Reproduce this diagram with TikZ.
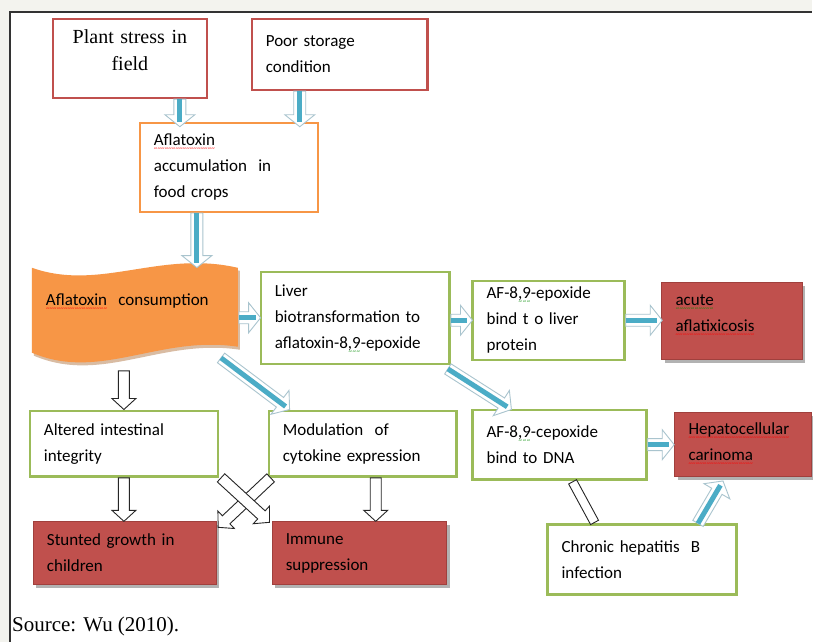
\documentclass[tikz,border=0pt]{standalone}
\usepackage{fontspec}
\setmainfont{Carlito}
\newfontfamily\sourcefont{Liberation Serif}
\usetikzlibrary{calc, shadows}
\definecolor{FlowRed}{HTML}{C0504D}
\definecolor{FlowRedDark}{HTML}{A0403D}
\definecolor{FlowOrange}{HTML}{F79646}
\definecolor{FlowGreen}{HTML}{9BBB59}
\definecolor{FlowBlue}{HTML}{4BACC6}
\definecolor{FlowEdge}{HTML}{A9C4CE}
\definecolor{PageGray}{HTML}{F3F3EE}
\definecolor{BannerRim}{HTML}{D9BCA3}

% spell-check squiggles under words
\newcommand\squiggle[2]{\leavevmode\setbox0\hbox{#2}\rlap{\raisebox{-5pt}[0pt][0pt]{\hbox to \wd0{\color{#1}\fontsize{7}{7}\selectfont\xleaders\hbox{\textasciitilde}\hfil}}}\box0}
\newcommand\spellwave[1]{\squiggle{red}{#1}}
\newcommand\grammarwave[1]{\squiggle{green!55!black}{#1}}

% block arrow: style, from, to, half shaft, half head, head length
\newcommand{\blockarrow}[6][]{%
  \path[#1] let \p1=($(#3)-(#2)$), \n1={atan2(\y1,\x1)} in
    ($(#2)+(\n1+90:#4)$) -- ($(#3)+(\n1+180:#6)+(\n1+90:#4)$)
    -- ($(#3)+(\n1+180:#6)+(\n1+90:#5)$) -- (#3)
    -- ($(#3)+(\n1+180:#6)+(\n1-90:#5)$) -- ($(#3)+(\n1+180:#6)+(\n1-90:#4)$)
    -- ($(#2)+(\n1-90:#4)$) -- cycle;}
\newcommand{\bluearrow}[2]{%
  \blockarrow[bluehead]{#1}{#2}{6pt}{15pt}{12pt}
  \draw[bluecore] (#1) -- ($(#2)!5pt!(#1)$);}
\newcommand{\hollowarrow}[2]{\blockarrow[hollow]{#1}{#2}{5.5pt}{12pt}{11pt}}

\begin{document}
\begin{tikzpicture}[x=1pt, y=-1pt,
  box/.style={rectangle, line width=2.4pt, fill=white, align=left, inner xsep=14pt,
    inner ysep=2pt, font=\fontsize{17}{26}\selectfont},
  redbox/.style={box, draw=FlowRed},
  orangebox/.style={box, draw=FlowOrange},
  greenbox/.style={box, draw=FlowGreen},
  fillbox/.style={box, line width=0.6pt, draw=FlowRedDark, fill=FlowRed,
    drop shadow={shadow xshift=3pt, shadow yshift=-3pt, fill=black!30, opacity=1}},
  bluehead/.style={draw=FlowEdge, fill=white, line width=0.9pt},
  bluecore/.style={draw=FlowBlue, line width=5pt},
  hollow/.style={draw=black!85, fill=white, line width=0.9pt}]

% page
\fill[PageGray] (0,0) rectangle (813,642);
\fill[white] (10,12) rectangle (813,642);
\draw[black!80, line width=1.2pt] (10,642) -- (10,12) -- (813,12);

% wave banner
\fill[BannerRim, shift={(2,3)}] (32,268) .. controls (100,292) and (160,250) .. (238,268)
  -- (238,347) .. controls (160,335) and (100,382) .. (32,353) -- cycle;
\fill[FlowOrange] (32,268) .. controls (100,292) and (160,250) .. (238,268)
  -- (238,347) .. controls (160,335) and (100,382) .. (32,353) -- cycle;

\node[redbox, text width=126pt, minimum height=79pt, align=center, text depth=44pt,
  font=\sourcefont\fontsize{20}{27}\selectfont] (plant) at (130,58.5) {Plant stress in\\field};
\node[redbox, text width=148pt, minimum height=71pt] (poor) at (340,54.5) {Poor storage\\condition};
\node[orangebox, text width=150pt, minimum height=89pt] (accum) at (229,167.5)
  {\spellwave{Aflatoxin}\\accumulation\ \ in\\food crops};
\node[box, draw=none, fill=none, text width=178pt, minimum height=97pt, text height=12pt,
  text depth=34pt] (cons) at (135,316.5) {\spellwave{Aflatoxin}\ \ consumption};
\node[greenbox, text width=161pt, minimum height=92pt] (liver) at (355.5,318)
  {Liver\\biotransformation to\\aflatoxin-8\grammarwave{,9}-epoxide};
\node[greenbox, text width=124pt, minimum height=79pt] (afliver) at (549,320.5)
  {AF-8\grammarwave{,9}-epoxide\\bind t o liver\\protein};
\node[fillbox, text width=113pt, minimum height=77pt, text depth=42pt] (acute) at (732.5,321.5)
  {\grammarwave{acute}\\\spellwave{aflatixicosis}};
\node[greenbox, text width=160pt, minimum height=66pt] (altered) at (124,444) {Altered intestinal\\integrity};
\node[greenbox, text width=160pt, minimum height=66pt] (modul) at (363,444) {Modulation\ \ of\\cytokine expression};
\node[greenbox, text width=146pt, minimum height=70pt] (cepox) at (560,445)
  {AF-8\grammarwave{,9}-cepoxide\\bind to DNA};
\node[fillbox, text width=109pt, minimum height=64pt, text depth=32pt] (hepato) at (743.5,445)
  {\spellwave{Hepatocellular}\\\spellwave{carinoma}};
\node[fillbox, text width=155pt, minimum height=63pt] (stunted) at (124.5,553.5) {Stunted growth in\\children};
\node[fillbox, text width=147pt, minimum height=63pt] (immune) at (359.5,553.5) {Immune\\suppression};
\node[greenbox, text width=161pt, minimum height=70pt] (chronic) at (642.5,560) {Chronic hepatitis\ \ B\\infection};
\node[anchor=base west, inner sep=0pt, font=\sourcefont\fontsize{21}{25}\selectfont] (source)
  at (12,632) {Source: Wu (2010).};

% blue arrows
\bluearrow{[xshift=50pt]plant.south}{[xshift=-49pt,yshift=-5pt]accum.north}
\bluearrow{[xshift=-40pt]poor.south}{[xshift=71pt,yshift=-5pt]accum.north}
\bluearrow{[xshift=-32pt]accum.south}{[xshift=62pt,yshift=-1pt]cons.north}
\bluearrow{cons.east |- liver.west}{[xshift=1pt]liver.west}
\bluearrow{liver.east |- afliver.west}{[xshift=1pt]afliver.west}
\bluearrow{afliver.east}{[xshift=1pt]acute.west |- afliver.east}
\bluearrow{[xshift=-18pt,yshift=8pt]cons.south east}{[xshift=22pt]modul.north west}
\bluearrow{[xshift=-3pt,yshift=-4pt]liver.south east}{[xshift=40pt,yshift=-1pt]cepox.north west}
\bluearrow{cepox.east}{hepato.west}
\bluearrow{[xshift=56pt]chronic.north}{[xshift=-20pt,yshift=-4pt]hepato.south}

% hollow arrows
\hollowarrow{[xshift=-11pt,yshift=-5pt]cons.south}{altered.north}
\hollowarrow{altered.south}{altered.south |- stunted.north}
\hollowarrow{[xshift=13pt]modul.south}{[xshift=16.5pt]immune.north}
\hollowarrow{[xshift=3pt]modul.south west}{[xshift=2pt,yshift=-6pt]stunted.north east}
\hollowarrow{[xshift=2pt]altered.south east}{[xshift=-2pt,yshift=-1pt]immune.north west}
\blockarrow[hollow]{[xshift=13pt,yshift=-1pt]cepox.south}{[xshift=-47.5pt,yshift=1pt]chronic.north}{4.5pt}{4.5pt}{0pt}
\end{tikzpicture}
\end{document}
